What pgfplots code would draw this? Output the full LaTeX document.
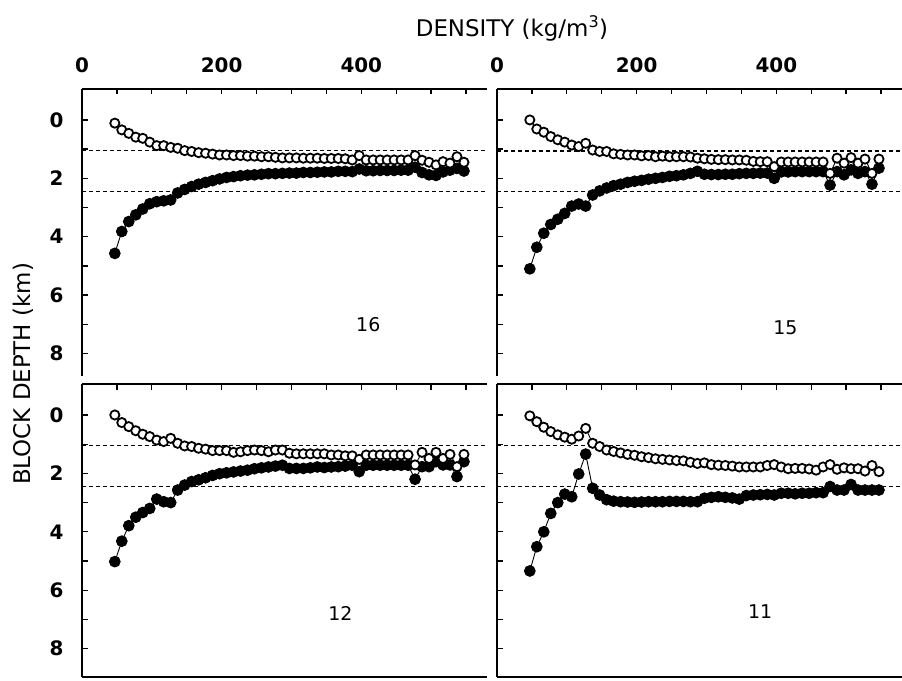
\documentclass[border=0pt]{standalone}
\usepackage{fontspec}
\setmainfont{DejaVu Sans}
\usepackage{pgfplots}
\usepackage{pgfplotstable}
\pgfplotsset{compat=1.18}

\pgfplotstableread{
x o f
47 0.11 4.57
57 0.34 3.82
67 0.46 3.48
77 0.59 3.25
87 0.63 3.05
97 0.76 2.87
107 0.88 2.80
117 0.88 2.77
127 0.94 2.74
137 0.97 2.50
147 1.05 2.38
157 1.08 2.28
167 1.12 2.20
177 1.14 2.14
187 1.17 2.08
197 1.20 2.02
207 1.20 1.97
217 1.22 1.94
227 1.22 1.91
237 1.24 1.89
247 1.24 1.88
257 1.26 1.86
267 1.26 1.84
277 1.28 1.84
287 1.30 1.83
297 1.30 1.82
307 1.30 1.82
317 1.31 1.80
327 1.31 1.80
337 1.31 1.79
347 1.32 1.78
357 1.32 1.78
367 1.32 1.76
377 1.33 1.76
387 1.37 1.77
397 1.22 1.68
407 1.37 1.74
417 1.37 1.74
427 1.37 1.73
437 1.37 1.73
447 1.37 1.73
457 1.37 1.72
467 1.37 1.72
477 1.22 1.62
487 1.38 1.80
497 1.45 1.88
507 1.54 1.90
517 1.43 1.78
527 1.48 1.72
537 1.26 1.66
547 1.45 1.75
}\tabA

\pgfplotstableread{
x o f
47 0.00 5.10
57 0.31 4.36
67 0.42 3.88
77 0.57 3.58
87 0.68 3.40
97 0.76 3.20
107 0.86 2.95
117 0.91 2.88
127 0.80 2.95
137 1.03 2.57
147 1.08 2.43
157 1.08 2.33
167 1.16 2.25
177 1.18 2.20
187 1.20 2.14
197 1.20 2.10
207 1.23 2.07
217 1.22 2.03
227 1.26 2.00
237 1.24 1.97
247 1.26 1.93
257 1.26 1.91
267 1.26 1.88
277 1.27 1.83
287 1.31 1.76
297 1.33 1.86
307 1.35 1.87
317 1.36 1.87
327 1.36 1.86
337 1.37 1.86
347 1.37 1.84
357 1.38 1.83
367 1.42 1.83
377 1.43 1.82
387 1.43 1.82
397 1.60 2.00
407 1.44 1.78
417 1.44 1.78
427 1.44 1.77
437 1.44 1.77
447 1.44 1.77
457 1.44 1.77
467 1.44 1.77
477 1.83 2.23
487 1.31 1.77
497 1.48 1.88
507 1.29 1.71
517 1.48 1.83
527 1.34 1.77
537 1.83 2.20
547 1.34 1.65
}\tabB

\pgfplotstableread{
x o f
47 0.00 5.02
57 0.26 4.32
67 0.40 3.79
77 0.54 3.50
87 0.66 3.34
97 0.74 3.20
107 0.86 2.88
117 0.91 2.97
127 0.80 3.00
137 0.97 2.57
147 1.06 2.40
157 1.08 2.28
167 1.14 2.22
177 1.17 2.15
187 1.22 2.07
197 1.22 2.01
207 1.22 1.98
217 1.28 1.95
227 1.26 1.92
237 1.22 1.89
247 1.20 1.84
257 1.22 1.81
267 1.26 1.78
277 1.20 1.75
287 1.20 1.72
297 1.31 1.83
307 1.33 1.83
317 1.33 1.83
327 1.33 1.81
337 1.33 1.78
347 1.33 1.80
357 1.37 1.78
367 1.37 1.77
377 1.40 1.75
387 1.40 1.72
397 1.52 1.94
407 1.37 1.72
417 1.37 1.72
427 1.37 1.72
437 1.37 1.72
447 1.37 1.72
457 1.37 1.72
467 1.37 1.72
477 1.71 2.20
487 1.28 1.77
497 1.49 1.77
507 1.28 1.60
517 1.49 1.71
527 1.35 1.71
537 1.77 2.11
547 1.35 1.60
}\tabC

\pgfplotstableread{
x o f
47 0.03 5.34
57 0.23 4.51
67 0.42 4.00
77 0.57 3.37
87 0.68 3.00
97 0.76 2.71
107 0.83 2.80
117 0.72 2.02
127 0.46 1.34
137 0.97 2.51
147 1.08 2.74
157 1.20 2.90
167 1.25 2.95
177 1.30 2.97
187 1.35 2.98
197 1.38 2.99
207 1.43 2.98
217 1.46 2.97
227 1.50 2.97
237 1.52 2.97
247 1.54 2.96
257 1.56 2.96
267 1.57 2.96
277 1.62 2.97
287 1.66 2.97
297 1.64 2.85
307 1.70 2.82
317 1.72 2.80
327 1.73 2.82
337 1.75 2.84
347 1.78 2.88
357 1.78 2.76
367 1.78 2.74
377 1.78 2.73
387 1.73 2.72
397 1.70 2.74
407 1.78 2.68
417 1.84 2.68
427 1.83 2.70
437 1.83 2.68
447 1.85 2.68
457 1.89 2.66
467 1.78 2.66
477 1.70 2.45
487 1.86 2.57
497 1.81 2.57
507 1.84 2.38
517 1.84 2.57
527 1.92 2.57
537 1.73 2.57
547 1.94 2.57
}\tabD

\pgfplotsset{
  panel/.style={
    scale only axis, width=405bp,
    xmin=0, xmax=580, y dir=reverse,
    axis x line*=top, axis y line*=left,
    xtick={0,50,...,550}, ytick={0,1,...,8},
    tick align=inside, major tick length=5.5bp,
    every tick/.style={line width=1.3pt, black},
    axis line style={line width=1.6pt, -},
    ticklabel style={font=\fontsize{20}{24}\selectfont\bfseries},
    xticklabel style={yshift=13bp},
    yticklabel style={xshift=-15bp},
    clip=false,
  },
  top/.style={height=287bp, ymin=-1.06, ymax=8.77},
  bot/.style={height=293bp, ymin=-1.06, ymax=8.97},
  fser/.style={black, line width=0.9pt, mark=*, mark size=5.4bp},
  oser/.style={black, line width=0.9pt, mark=*, mark size=4.6bp, mark options={fill=white, line width=1.8pt}},
  dline/.style={black, line width=1.4pt, dash pattern=on 3.5bp off 3.5bp, forget plot},
}
\tikzset{pnum/.style={font=\fontsize{19}{23}\selectfont}}

\begin{document}
\begin{tikzpicture}
\path[use as bounding box] (0bp,0bp) rectangle (902bp,681bp);

% top-left (16)
\begin{axis}[panel, top, at={(82bp,592bp)}, anchor=north west,
  xticklabels={0,,,,200,,,,400,,,}, yticklabels={0,,2,,4,,6,,8}]
\addplot[dline] coordinates {(0,1.05) (580,1.05)};
\addplot[dline] coordinates {(0,2.45) (580,2.45)};
\addplot[fser] table[x=x,y=f] {\tabA};
\addplot[oser] table[x=x,y=o] {\tabA};
\node[pnum] at (axis cs:410,7.0) {16};
\end{axis}

% top-right (15)
\begin{axis}[panel, top, at={(497bp,592bp)}, anchor=north west,
  xticklabels={0,,,,200,,,,400,,,}, yticklabels={}]
\addplot[dline] coordinates {(0,1.07) (580,1.07)};
\addplot[dline] coordinates {(0,2.46) (580,2.46)};
\addplot[fser] table[x=x,y=f] {\tabB};
\addplot[oser] table[x=x,y=o] {\tabB};
\node[pnum] at (axis cs:413,7.1) {15};
\end{axis}

% bottom-left (12)
\begin{axis}[panel, bot, at={(82bp,297bp)}, anchor=north west,
  xticklabels={}, yticklabels={0,,2,,4,,6,,8}]
\addplot[dline] coordinates {(0,1.04) (580,1.04)};
\addplot[dline] coordinates {(0,2.44) (580,2.44)};
\addplot[fser] table[x=x,y=f] {\tabC};
\addplot[oser] table[x=x,y=o] {\tabC};
\draw[line width=1.6pt] (axis cs:0,8.97) -- (axis cs:580,8.97);
\node[pnum] at (axis cs:370,6.78) {12};
\end{axis}

% bottom-right (11)
\begin{axis}[panel, bot, at={(497bp,297bp)}, anchor=north west,
  xticklabels={}, yticklabels={}]
\addplot[dline] coordinates {(0,1.04) (580,1.04)};
\addplot[dline] coordinates {(0,2.44) (580,2.44)};
\addplot[fser] table[x=x,y=f] {\tabD};
\addplot[oser] table[x=x,y=o] {\tabD};
\draw[line width=1.6pt] (axis cs:0,8.97) -- (axis cs:580,8.97);
\node[pnum] at (axis cs:377,6.72) {11};
\end{axis}

\node[font=\fontsize{23}{27}\selectfont] at (512bp,653bp) {DENSITY (kg/m\textsuperscript{3})};
\node[font=\fontsize{23}{27}\selectfont, rotate=90] at (23bp,307bp) {BLOCK DEPTH (km)};
\end{tikzpicture}
\end{document}
